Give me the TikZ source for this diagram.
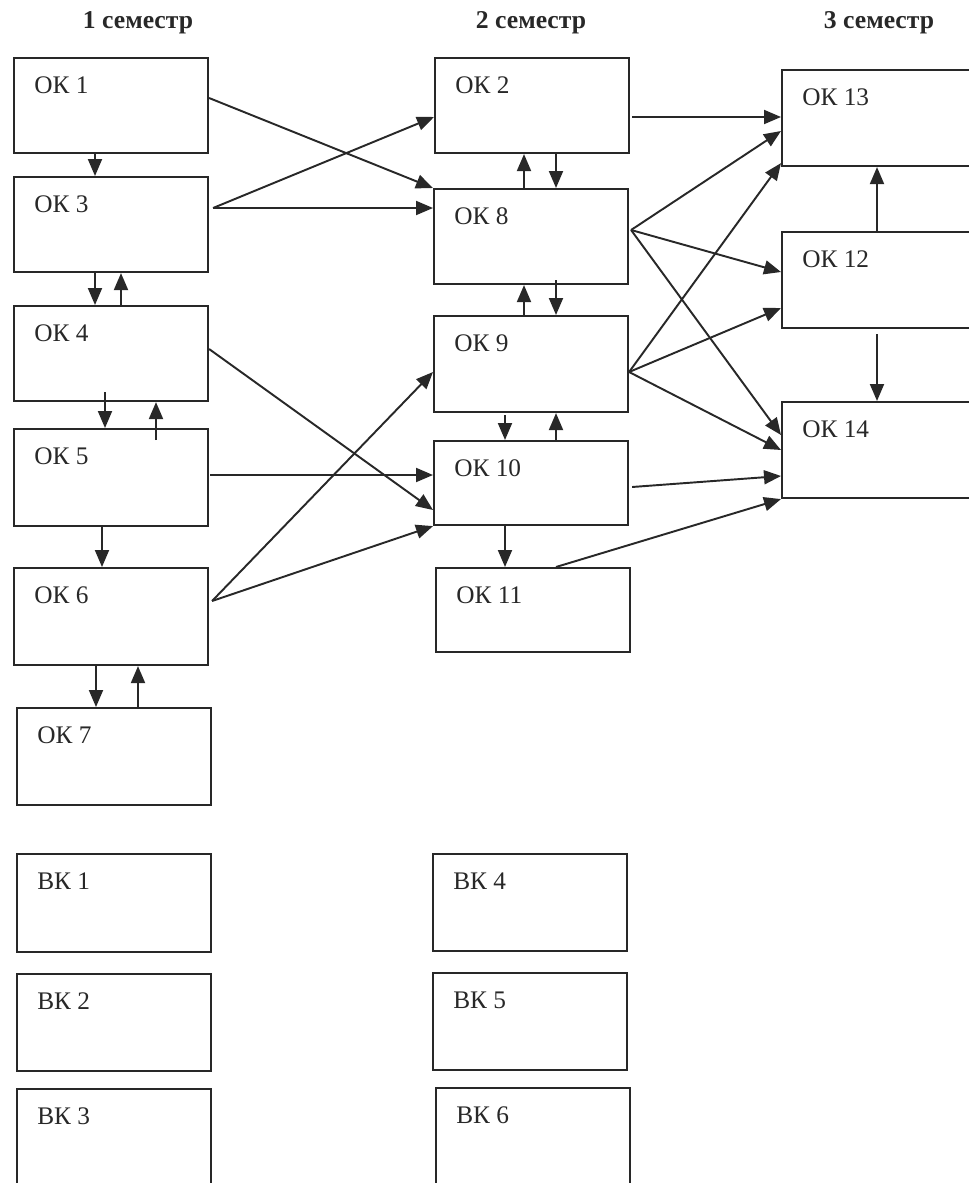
\documentclass[tikz,border=0pt]{standalone}
\usepackage{fontspec}
\setmainfont{Liberation Serif}
\usepackage{color}
\usetikzlibrary{calc, arrows.meta}

\definecolor{ink}{RGB}{40,40,40}

\begin{document}
\begin{tikzpicture}[x=0.02cm, y=-0.02cm,
	box/.style={draw=ink, line width=1.2pt, rectangle, anchor=north west, inner sep=0pt,
		minimum width=3.88cm, minimum height=1.9cm,
		label={[anchor=base west, inner sep=0pt, xshift=0.42cm, yshift=-0.73cm, text=ink, font=\fontsize{14.4}{17}\selectfont]north west:#1}},
	sem/.style={anchor=base, text=ink, font=\bfseries\fontsize{14.6}{17}\selectfont},
	link/.style={draw=ink, line width=1.1pt, -{Triangle[length=0.34cm, width=0.28cm]}}]
	\useasboundingbox (0,0) rectangle (969,1183);
	\clip (0,0) rectangle (969,1183);

	\node[sem] (s1) at (138,29) {1 семестр};
	\node[sem] (s2) at (531,29) {2 семестр};
	\node[sem] (s3) at (879,29) {3 семестр};

	\node[box=ОК 1] (ok1) at (13,57) {};
	\node[box=ОК 3] (ok3) at (13,176) {};
	\node[box=ОК 4] (ok4) at (13,305) {};
	\node[box=ОК 5, minimum height=1.94cm] (ok5) at (13,428) {};
	\node[box=ОК 6, minimum height=1.94cm] (ok6) at (13,567) {};
	\node[box=ОК 7, minimum height=1.94cm] (ok7) at (16,707) {};

	\node[box=ОК 2] (ok2) at (434,57) {};
	\node[box=ОК 8] (ok8) at (433,188) {};
	\node[box=ОК 9, minimum height=1.92cm] (ok9) at (433,315) {};
	\node[box=ОК 10, minimum height=1.68cm] (ok10) at (433,440) {};
	\node[box=ОК 11, minimum height=1.68cm] (ok11) at (435,567) {};

	\node[box=ОК 13, minimum width=5cm, minimum height=1.92cm] (ok13) at (781,69) {};
	\node[box=ОК 12, minimum width=5cm, minimum height=1.92cm] (ok12) at (781,231) {};
	\node[box=ОК 14, minimum width=5cm, minimum height=1.92cm] (ok14) at (781,401) {};

	\node[box=ВК 1, minimum height=1.96cm] (bk1) at (16,853) {};
	\node[box=ВК 2, minimum height=1.94cm] (bk2) at (16,973) {};
	\node[box=ВК 3, minimum height=3cm] (bk3) at (16,1088) {};
	\node[box=ВК 4, minimum height=1.94cm] (bk4) at (432,853) {};
	\node[box=ВК 5, minimum height=1.94cm] (bk5) at (432,972) {};
	\node[box=ВК 6, minimum height=3cm] (bk6) at (435,1087) {};

	\draw[link] ($(ok1.south west)+(82,0)$) -- ($(ok3.north west)+(82,0)$);
	\draw[link] ($(ok3.south west)+(82,0)$) -- ($(ok4.north west)+(82,0)$);
	\draw[link] ($(ok4.north west)+(108,0)$) -- ($(ok3.south west)+(108,0)$);
	\draw[link] ($(ok4.south west)+(92,-10)$) -- ($(ok5.north west)+(92,0)$);
	\draw[link] ($(ok5.north west)+(143,12)$) -- ($(ok4.south west)+(143,0)$);
	\draw[link] ($(ok5.south west)+(89,0)$) -- ($(ok6.north west)+(89,0)$);
	\draw[link] ($(ok6.south west)+(83,0)$) -- ($(ok7.north west)+(80,0)$);
	\draw[link] ($(ok7.north west)+(122,0)$) -- ($(ok6.south west)+(125,0)$);

	\draw[link] ($(ok1.north east)+(0,41)$) -- (ok8.north west);
	\draw[link] ($(ok3.north east)+(4,32)$) -- ($(ok2.north west)+(0,60)$);
	\draw[link] ($(ok3.north east)+(4,32)$) -- ($(ok8.north west)+(0,20)$);
	\draw[link] ($(ok4.north east)+(0,44)$) -- ($(ok10.north west)+(0,70)$);
	\draw[link] ($(ok5.north east)+(1,47)$) -- ($(ok10.north west)+(0,35)$);
	\draw[link] ($(ok6.north east)+(3,34)$) -- ($(ok9.north west)+(0,57)$);
	\draw[link] ($(ok6.north east)+(3,34)$) -- (ok10.south west);

	\draw[link] ($(ok8.north west)+(91,0)$) -- ($(ok2.south west)+(90,0)$);
	\draw[link] ($(ok2.south west)+(122,0)$) -- ($(ok8.north west)+(123,0)$);
	\draw[link] ($(ok9.north west)+(91,0)$) -- ($(ok8.south west)+(91,0)$);
	\draw[link] ($(ok8.south west)+(123,-5)$) -- ($(ok9.north west)+(123,0)$);
	\draw[link] ($(ok9.south west)+(72,2)$) -- ($(ok10.north west)+(72,0)$);
	\draw[link] ($(ok10.north west)+(123,0)$) -- ($(ok9.south west)+(123,0)$);
	\draw[link] ($(ok10.south west)+(72,0)$) -- ($(ok11.north west)+(70,0)$);

	\draw[link] ($(ok2.north east)+(2,60)$) -- ($(ok13.north west)+(0,48)$);
	\draw[link] ($(ok8.north east)+(2,42)$) -- ($(ok13.north west)+(0,62)$);
	\draw[link] ($(ok8.north east)+(2,42)$) -- ($(ok12.north west)+(0,41)$);
	\draw[link] ($(ok8.north east)+(2,42)$) -- ($(ok14.north west)+(0,34)$);
	\draw[link] ($(ok9.north east)+(0,57)$) -- ($(ok13.south west)+(0,-4)$);
	\draw[link] ($(ok9.north east)+(0,57)$) -- ($(ok12.north west)+(0,77)$);
	\draw[link] ($(ok9.north east)+(0,57)$) -- ($(ok14.north west)+(0,49)$);
	\draw[link] ($(ok10.north east)+(3,47)$) -- ($(ok14.north west)+(0,75)$);
	\draw[link] ($(ok11.north west)+(121,0)$) -- (ok14.south west);
	\draw[link] ($(ok12.north west)+(96,0)$) -- ($(ok13.south west)+(96,0)$);
	\draw[link] ($(ok12.south west)+(96,5)$) -- ($(ok14.north west)+(96,0)$);

\end{tikzpicture}
\end{document}
